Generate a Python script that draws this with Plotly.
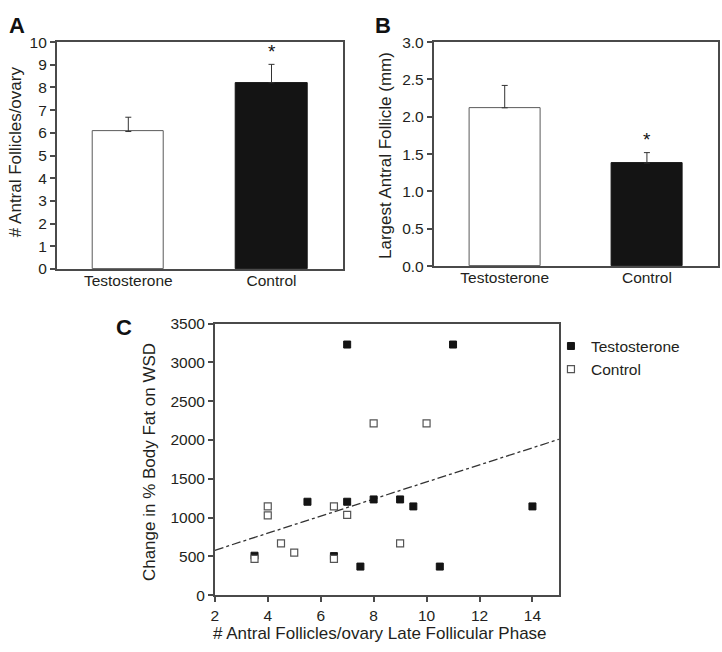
import plotly.graph_objects as go

W, H = 722, 652
FONT = "Liberation Sans, Arial, sans-serif"
INK = "#231f20"
AXIS = "#4a4a4a"

# panels A and B
groups = ["Testosterone", "Control"]
follicle_counts = [6.06, 8.21]
follicle_counts_err = [0.63, 0.81]
largest_follicle = [2.12, 1.38]
largest_follicle_err = [0.30, 0.14]

# panel C
testo_x = [7, 11, 3.5, 5.5, 7, 8, 9, 9.5, 14, 6.5, 7.5, 10.5]
testo_y = [3230, 3230, 510, 1205, 1205, 1235, 1235, 1145, 1145, 505, 370, 370]
control_x = [8, 10, 4, 4, 6.5, 7, 4.5, 5, 3.5, 6.5, 9]
control_y = [2215, 2215, 1145, 1030, 1145, 1035, 670, 550, 470, 470, 670]
fit_x = [2, 15]
fit_y = [580, 2010]


def fx(p):
    return p / W


def fy(p):
    return 1 - p / H


def bar_trace(values, errors, xa, ya):
    return go.Bar(
        x=groups, y=values, width=0.5, xaxis=xa, yaxis=ya, showlegend=False,
        marker=dict(color=["white", "#141414"], line=dict(color=["#5a5a5a", "#141414"], width=1)),
        error_y=dict(type="data", array=errors, arrayminus=[0, 0], symmetric=False,
                     color="#333333", thickness=1, width=3),
    )


fig = go.Figure()
fig.add_trace(bar_trace(follicle_counts, follicle_counts_err, "x", "y"))
fig.add_trace(bar_trace(largest_follicle, largest_follicle_err, "x2", "y2"))

fig.add_trace(go.Scatter(
    x=fit_x, y=fit_y, mode="lines", xaxis="x3", yaxis="y3", showlegend=False,
    line=dict(color="#333333", width=1.3, dash="dashdot"),
))
fig.add_trace(go.Scatter(
    x=testo_x, y=testo_y, mode="markers", name="Testosterone", xaxis="x3", yaxis="y3",
    marker=dict(symbol="square", size=7, color="#141414", line=dict(color="#141414", width=1)),
))
fig.add_trace(go.Scatter(
    x=control_x, y=control_y, mode="markers", name="Control", xaxis="x3", yaxis="y3",
    marker=dict(symbol="square", size=7, color="white", line=dict(color="#555555", width=1.2)),
))

frame = dict(showline=True, mirror=True, linecolor=AXIS, linewidth=1.5,
             showgrid=False, zeroline=False, tickfont=dict(size=15.5, color=INK))
yticks = dict(ticks="outside", ticklen=5, tickcolor=AXIS, tickwidth=1.5)

fig.update_layout(
    width=W, height=H,
    margin=dict(l=0, r=0, t=0, b=0),
    paper_bgcolor="white", plot_bgcolor="white",
    font=dict(family=FONT, color=INK),
    bargap=0,
    xaxis=dict(domain=[fx(53), fx(341)], anchor="y", type="category",
               range=[-0.5, 1.5], ticks="", ticklabelstandoff=-3, **frame),
    yaxis=dict(domain=[fy(267), fy(34)], anchor="x", range=[0, 10], dtick=1, **yticks, **frame),
    xaxis2=dict(domain=[fx(432), fx(718)], anchor="y2", type="category",
                range=[-0.5, 1.5], ticks="", ticklabelstandoff=-3, **frame),
    yaxis2=dict(domain=[fy(264), fy(34)], anchor="x2", range=[0, 3], dtick=0.5,
                tickformat=".1f", **yticks, **frame),
    xaxis3=dict(domain=[fx(212), fx(558)], anchor="y3", range=[2, 15], dtick=2, **yticks, **frame),
    yaxis3=dict(domain=[fy(602), fy(323)], anchor="x3", range=[0, 3500], dtick=500, **yticks, **frame),
    legend=dict(x=fx(550), y=fy(329), xanchor="left", yanchor="top",
                font=dict(size=15.5, color=INK), bgcolor="rgba(0,0,0,0)"),
)

notes = [
    dict(text="<b>A</b>", x=fx(3), y=fy(2)),
    dict(text="<b>B</b>", x=fx(371), y=fy(2)),
    dict(text="<b>C</b>", x=fx(111), y=fy(312)),
]
for n in notes:
    fig.add_annotation(text=n["text"], x=n["x"], y=n["y"], xref="paper", yref="paper",
                       xanchor="left", yanchor="top", showarrow=False,
                       font=dict(size=22, color="#111111"))

titles = [
    dict(text="# Antral Follicles/ovary", x=fx(11), y=fy(146), angle=-90),
    dict(text="Largest Antral Follicle (mm)", x=fx(383), y=fy(150), angle=-90),
    dict(text="Change in % Body Fat on WSD", x=fx(147), y=fy(465), angle=-90),
    dict(text="# Antral Follicles/ovary Late Follicular Phase", x=fx(378), y=fy(641), angle=0),
]
for t in titles:
    fig.add_annotation(text=t["text"], x=t["x"], y=t["y"], xref="paper", yref="paper",
                       xanchor="center", yanchor="middle", textangle=t["angle"],
                       showarrow=False, font=dict(size=17, color=INK))

# significance marks
fig.add_annotation(text="*", x="Control", y=9.36, xref="x", yref="y", showarrow=False,
                   yanchor="middle", yshift=5, font=dict(size=19, color="#111111"))
fig.add_annotation(text="*", x="Control", y=1.64, xref="x2", yref="y2", showarrow=False,
                   yanchor="middle", yshift=4, font=dict(size=19, color="#111111"))

# the page body has a default 8px margin that would push the figure off the window
fig.write_html("out.html", config={"displayModeBar": False},
               post_script="document.body.style.margin = '0';")
